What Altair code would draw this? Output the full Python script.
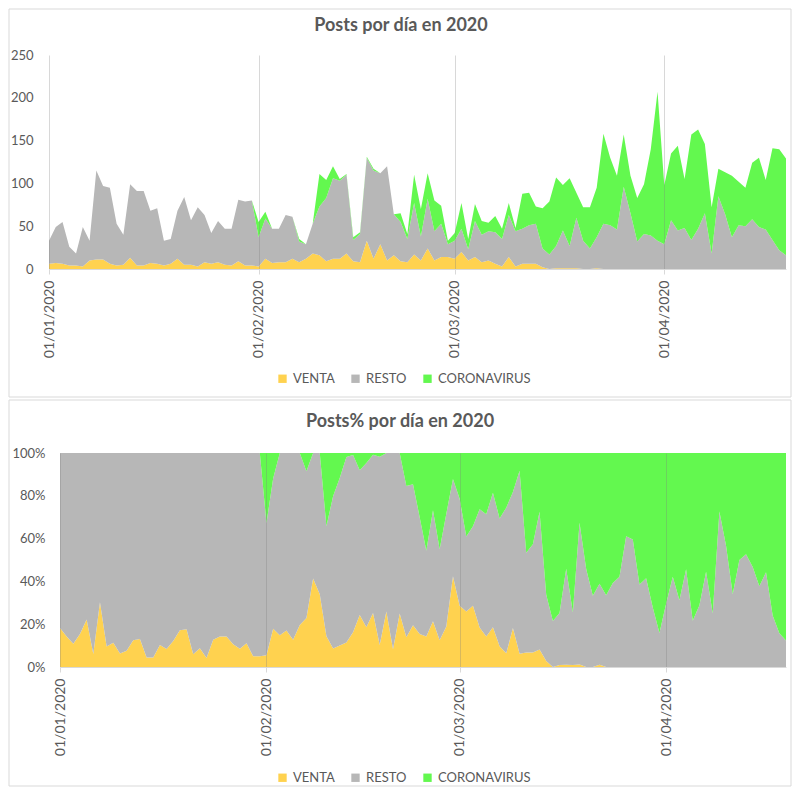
import altair as alt
import pandas as pd

# ---------------- data ----------------
fechas = pd.date_range("2020-01-01", periods=110, freq="D").strftime("%Y-%m-%d").tolist()
series = ["VENTA", "RESTO", "CORONAVIRUS"]
colores = ["#FFD24F", "#B7B7B7", "#63F84F"]

venta = [6, 7, 6, 4, 4, 3, 10, 11, 11, 6,
         4, 5, 13, 4, 4, 7, 6, 4, 6, 12,
         5, 5, 3, 8, 6, 8, 5, 4, 9, 4,
         4, 3, 12, 7, 8, 8, 12, 8, 12, 18,
         16, 9, 12, 12, 18, 9, 8, 33, 12, 29,
         10, 16, 9, 8, 17, 10, 24, 10, 14, 14,
         12, 20, 10, 14, 8, 10, 6, 3, 14, 3,
         6, 6, 6, 2, 0, 1, 1, 1, 1, 0,
         0, 1, 0, 0, 0, 0, 0, 0, 0, 0,
         0, 0, 0, 0, 0, 0, 0, 0, 0, 0,
         0, 0, 0, 0, 0, 0, 0, 0, 0, 0]

resto = [27, 42, 49, 22, 14, 46, 23, 104, 86, 89,
         49, 35, 86, 87, 87, 61, 65, 29, 29, 56,
         79, 52, 69, 55, 36, 48, 42, 43, 72, 75,
         76, 34, 47, 40, 39, 55, 49, 24, 17, 35,
         57, 74, 94, 91, 92, 25, 33, 97, 103, 83,
         110, 48, 46, 27, 60, 28, 58, 34, 39, 15,
         21, 27, 13, 42, 32, 34, 37, 32, 49, 41,
         41, 45, 47, 22, 17, 26, 44, 26, 59, 33,
         24, 36, 53, 51, 46, 96, 65, 32, 41, 39,
         33, 29, 57, 45, 48, 34, 47, 65, 18, 85,
         64, 37, 51, 50, 58, 49, 46, 34, 22, 16]

coronavirus = [0, 0, 0, 0, 0, 0, 0, 0, 0, 0,
               0, 0, 0, 0, 0, 0, 0, 0, 0, 0,
               0, 0, 0, 0, 0, 0, 0, 0, 0, 0,
               0, 18, 8, 0, 0, 0, 0, 3, 0, 0,
               38, 21, 14, 2, 1, 3, 2, 1, 2, 0,
               0, 0, 10, 6, 33, 32, 30, 36, 21, 4,
               9, 30, 12, 20, 16, 10, 19, 12, 14, 4,
               41, 38, 20, 47, 62, 80, 53, 79, 29, 39,
               48, 58, 105, 79, 63, 61, 44, 51, 58, 101,
               174, 69, 78, 99, 57, 123, 116, 81, 54, 32,
               49, 72, 51, 45, 66, 81, 58, 107, 118, 113]

marcas_mes = [(2020, 1, 1), (2020, 2, 1), (2020, 3, 1), (2020, 4, 1)]
ticks_posts = [0, 50, 100, 150, 200, 250]
ticks_pct = [0, 0.2, 0.4, 0.6, 0.8, 1.0]
titulos = ["Posts por día en 2020", "Posts% por día en 2020"]

FONT = "Lato"
GRIS_TXT = "#595959"
BORDE = "#D9D9D9"

rows = []
for k, (nombre, vals) in enumerate(zip(series, [venta, resto, coronavirus])):
    for f, v in zip(fechas, vals):
        rows.append({"fecha": f, "serie": nombre, "posts": v, "orden": k})
df = pd.DataFrame(rows)


def dt(y, m, d):
    return alt.DateTime(year=y, month=m, date=d, utc=True)


def x_enc(rango):
    return alt.X(
        "fecha:T",
        scale=alt.Scale(type="utc", domain=[dt(2020, 1, 1), dt(2020, 4, 19)], nice=False, range=rango),
        axis=alt.Axis(values=[dt(*m) for m in marcas_mes], format="%d/%m/%Y", labelAngle=-90,
                      grid=True, gridColor="#7F7F7F", gridOpacity=0.3, zindex=1,
                      domainColor=BORDE, tickColor=BORDE, tickSize=5, labelPadding=6,
                      labelColor=GRIS_TXT, labelFont=FONT, labelFontSize=14, title=None),
    )


def color_enc(lx, ly):
    return alt.Color(
        "serie:N",
        scale=alt.Scale(domain=series, range=colores),
        legend=alt.Legend(orient="none", legendX=lx, legendY=ly, direction="horizontal", title=None,
                          symbolType="square", symbolSize=70, symbolStrokeWidth=0,
                          labelFont=FONT, labelFontSize=13, labelColor=GRIS_TXT,
                          columnPadding=14, labelOffset=4),
    )


def panel(titulo, y_enc, rango, borde, tx, ty, lx, ly):
    areas = alt.Chart(df).mark_area(interpolate="linear").encode(
        x=x_enc(rango), y=y_enc, color=color_enc(lx, ly),
        order=alt.Order("orden:Q", sort="ascending"),
    )
    marco = alt.Chart(pd.DataFrame({"k": [0]})).mark_rect(
        fill="#FFFFFF", fillOpacity=0, stroke=BORDE, strokeWidth=1
    ).encode(x=alt.value(borde[0]), x2=alt.value(borde[1]), y=alt.value(borde[2]), y2=alt.value(borde[3]))
    tit = alt.Chart(pd.DataFrame({"titulo": [titulo]})).mark_text(
        font=FONT, fontSize=18, fontWeight="bold", color=GRIS_TXT, align="center", baseline="middle"
    ).encode(text="titulo:N", x=alt.value(tx), y=alt.value(ty))
    return alt.layer(marco, areas, tit).properties(width=737, height=214)


y_top = alt.Y("posts:Q", stack="zero",
              scale=alt.Scale(domain=[0, 250], nice=False),
              axis=alt.Axis(values=ticks_posts, grid=False, domain=False, ticks=False, tickSize=0,
                            labelPadding=16, labelColor=GRIS_TXT, labelFont=FONT, labelFontSize=13,
                            title=None))
y_bot = alt.Y("posts:Q", stack="normalize",
              scale=alt.Scale(domain=[0, 1], nice=False),
              axis=alt.Axis(values=ticks_pct, format=".0%", grid=False, domain=False, ticks=False,
                            tickSize=0, labelPadding=4, labelColor=GRIS_TXT, labelFont=FONT,
                            labelFontSize=13, title=None))

top = panel(titulos[0], y_top, [0, 737], (-40, 742, -46, 342), 352, -29, 227, 317)
bottom = panel(titulos[1], y_bot, [11, 737], (-40, 742, -53, 333), 351, -31, 227, 318)

chart = (
    alt.vconcat(top, bottom, spacing=1)
    .resolve_scale(x="independent", y="independent", color="independent")
    .properties(padding=0, background="white")
    .configure_view(strokeWidth=0)
)

chart.save("out.html", embed_options={"renderer": "svg", "actions": False})
